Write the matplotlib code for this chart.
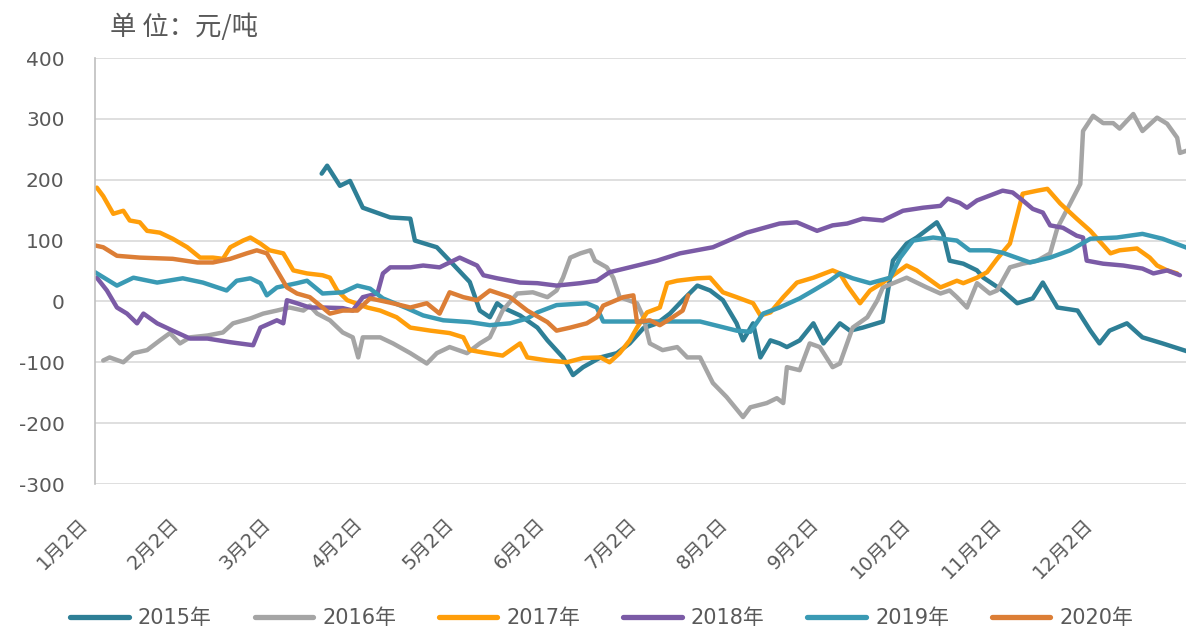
import matplotlib
matplotlib.use("Agg")
import matplotlib.pyplot as plt
from matplotlib.transforms import ScaledTranslation

plt.rcParams['font.family'] = ['DejaVu Sans', 'Noto Sans CJK SC']
plt.rcParams['axes.unicode_minus'] = False

# ---- data (time in months after 1月2日, value in 元/吨) ----
month_labels = ["1月2日", "2月2日", "3月2日", "4月2日", "5月2日", "6月2日",
                "7月2日", "8月2日", "9月2日", "10月2日", "11月2日", "12月2日"]
years = ["2015年", "2016年", "2017年", "2018年", "2019年", "2020年"]

t2015 = [2.48, 2.54, 2.68, 2.79, 2.93, 3.23, 3.45, 3.50, 3.74, 3.88, 4.10, 4.21, 4.32, 4.40,
         4.46, 4.65, 4.84, 4.95, 5.12, 5.23, 5.34, 5.53, 5.71, 5.85, 6.00, 6.15, 6.29, 6.43,
         6.59, 6.73, 6.87, 7.02, 7.09, 7.20, 7.28, 7.39, 7.49, 7.57, 7.71, 7.86, 7.97, 8.15,
         8.26, 8.40, 8.62, 8.73, 8.88, 8.99, 9.21, 9.28, 9.35, 9.50, 9.65, 9.72, 9.93, 10.09,
         10.26, 10.37, 10.53, 10.75, 10.89, 10.99, 11.10, 11.29, 11.46, 11.68, 11.95]
v2015 = [210, 223, 190, 198, 154, 138, 136, 100, 89, 67, 32, -15, -26, -3,
         -10, -23, -43, -64, -92, -121, -108, -92, -85, -69, -44, -36, -20, 2,
         26, 18, 2, -36, -64, -36, -92, -64, -69, -75, -64, -36, -69, -36,
         -48, -43, -33, 67, 95, 105, 130, 111, 67, 62, 51, 39, 18, -3,
         5, 31, -10, -15, -48, -69, -48, -36, -59, -69, -82]

t2016 = [0.09, 0.16, 0.31, 0.42, 0.57, 0.71, 0.82, 0.93, 1.04, 1.23, 1.40, 1.51, 1.70, 1.84,
         1.99, 2.13, 2.28, 2.35, 2.43, 2.57, 2.71, 2.82, 2.88, 2.93, 3.12, 3.26, 3.45, 3.63,
         3.74, 3.88, 4.07, 4.21, 4.32, 4.46, 4.62, 4.79, 4.95, 5.05, 5.12, 5.20, 5.31, 5.42,
         5.47, 5.60, 5.67, 5.74, 5.93, 6.00, 6.07, 6.21, 6.37, 6.48, 6.62, 6.76, 6.91, 7.09,
         7.17, 7.35, 7.46, 7.53, 7.57, 7.71, 7.82, 7.93, 8.07, 8.15, 8.29, 8.45, 8.56, 8.62,
         8.88, 9.10, 9.25, 9.35, 9.43, 9.54, 9.65, 9.79, 9.87, 10.01, 10.15, 10.31, 10.45,
         10.53, 10.67, 10.78, 10.81, 10.92, 11.03, 11.14, 11.21, 11.36, 11.46, 11.62, 11.73,
         11.84, 11.87, 11.95]
v2016 = [-97, -92, -100, -85, -80, -64, -52, -69, -59, -56, -51, -36, -28, -20,
         -15, -10, -15, -7, -20, -31, -51, -59, -92, -59, -59, -69, -85, -102,
         -85, -75, -85, -69, -59, -15, 13, 15, 7, 18, 39, 72, 79, 84,
         67, 56, 39, 7, -3, -26, -69, -80, -75, -92, -92, -134, -157, -190,
         -174, -167, -159, -167, -108, -113, -69, -75, -108, -102, -43, -26, 2, 23,
         39, 23, 13, 18, 7, -10, 30, 13, 18, 56, 62, 67, 79,
         121, 161, 193, 280, 305, 293, 293, 284, 308, 280, 302, 292,
         269, 244, 248]

t2017 = [0.02, 0.09, 0.20, 0.31, 0.38, 0.49, 0.57, 0.71, 0.85, 1.01, 1.15, 1.29, 1.40, 1.48,
         1.62, 1.70, 1.81, 1.91, 2.06, 2.17, 2.32, 2.49, 2.57, 2.65, 2.76, 2.98, 3.12, 3.30,
         3.45, 3.67, 3.88, 4.03, 4.10, 4.25, 4.46, 4.65, 4.73, 4.95, 5.16, 5.34, 5.53, 5.63,
         5.74, 5.85, 5.93, 6.04, 6.18, 6.26, 6.37, 6.59, 6.73, 6.87, 7.02, 7.20, 7.28, 7.39,
         7.53, 7.68, 7.86, 8.07, 8.15, 8.23, 8.37, 8.48, 8.62, 8.88, 8.99, 9.25, 9.43, 9.50,
         9.65, 9.76, 9.87, 10.01, 10.15, 10.31, 10.42, 10.56, 10.74, 10.89, 11.11, 11.21,
         11.40, 11.54, 11.62, 11.73, 11.84]
v2017 = [187, 173, 144, 149, 133, 130, 116, 113, 103, 89, 72, 72, 70, 89,
         100, 105, 95, 84, 79, 51, 46, 43, 39, 18, 2, -10, -15, -26,
         -43, -48, -52, -59, -80, -84, -89, -69, -92, -97, -100, -93, -92, -100,
         -85, -64, -43, -18, -10, 30, 34, 38, 39, 15, 7, -3, -23, -18,
         7, 31, 39, 51, 46, 26, -3, 18, 31, 59, 51, 23, 34, 30,
         39, 48, 70, 95, 177, 182, 185, 161, 136, 116, 79, 84,
         87, 72, 59, 51, 46]

t2018 = [0.02, 0.13, 0.24, 0.35, 0.46, 0.53, 0.68, 0.85, 1.04, 1.23, 1.48, 1.73, 1.81, 1.99,
         2.06, 2.10, 2.21, 2.35, 2.49, 2.71, 2.82, 2.93, 3.09, 3.15, 3.23, 3.45, 3.59, 3.77,
         3.88, 3.99, 4.18, 4.25, 4.40, 4.65, 4.84, 5.05, 5.31, 5.49, 5.63, 5.85, 6.15, 6.40,
         6.76, 7.13, 7.49, 7.68, 7.90, 8.07, 8.23, 8.40, 8.62, 8.84, 9.06, 9.25, 9.33, 9.46,
         9.54, 9.65, 9.79, 9.93, 10.04, 10.15, 10.26, 10.37, 10.45, 10.59, 10.74, 10.81, 10.85,
         11.03, 11.25, 11.46, 11.58, 11.73, 11.87]
v2018 = [39, 18, -10, -20, -36, -20, -36, -48, -61, -61, -67, -72, -43, -31,
         -36, 2, -3, -10, -10, -11, -15, 7, 13, 46, 56, 56, 59, 56,
         64, 72, 59, 43, 38, 31, 30, 26, 30, 34, 48, 56, 67, 79,
         89, 113, 128, 130, 116, 125, 128, 136, 133, 149, 154, 157, 169, 162,
         154, 166, 174, 182, 179, 166, 152, 146, 125, 121, 108, 105, 67,
         62, 59, 54, 46, 51, 43]

t2019 = [0.00, 0.24, 0.42, 0.68, 0.96, 1.18, 1.44, 1.55, 1.70, 1.81, 1.88, 1.99, 2.21, 2.32,
         2.49, 2.71, 2.87, 3.01, 3.15, 3.41, 3.59, 3.81, 4.10, 4.32, 4.54, 4.73, 4.84, 5.05,
         5.38, 5.49, 5.56, 5.96, 6.62, 7.02, 7.17, 7.31, 7.49, 7.71, 7.86, 8.04, 8.15, 8.29,
         8.48, 8.70, 8.81, 8.95, 9.17, 9.43, 9.57, 9.79, 9.93, 10.23, 10.45, 10.67, 10.89,
         11.18, 11.46, 11.68, 11.95]
v2019 = [48, 26, 39, 31, 38, 31, 18, 34, 38, 30, 10, 23, 30, 34,
         13, 15, 26, 21, 5, -11, -23, -31, -34, -39, -36, -28, -18, -6,
         -3, -10, -33, -33, -33, -48, -50, -20, -10, 5, 18, 34, 46, 38,
         30, 39, 72, 100, 105, 100, 84, 84, 80, 64, 72, 84, 103,
         105, 111, 103, 88]

t2020 = [0.00, 0.09, 0.24, 0.49, 0.85, 1.12, 1.29, 1.48, 1.66, 1.77, 1.88, 1.99, 2.10, 2.21,
         2.35, 2.49, 2.57, 2.71, 2.87, 3.01, 3.23, 3.45, 3.63, 3.77, 3.88, 4.03, 4.18, 4.32,
         4.54, 4.73, 4.95, 5.05, 5.20, 5.38, 5.49, 5.56, 5.78, 5.89, 5.93, 6.07, 6.18, 6.32,
         6.43, 6.49]
v2020 = [92, 89, 75, 72, 70, 64, 64, 70, 79, 84, 79, 51, 23, 13,
         7, -10, -20, -15, -15, 5, -2, -10, -3, -20, 15, 7, 2, 18,
         7, -15, -34, -48, -43, -36, -26, -7, 7, 10, -34, -31, -39, -26,
         -15, 10]

series_t = [t2015, t2016, t2017, t2018, t2019, t2020]
series_v = [v2015, v2016, v2017, v2018, v2019, v2020]
colors = ["#2E7F96", "#A5A5A5", "#FF9E0A", "#7B5BA6", "#3A9AB4", "#DC7E36"]

# ---- figure ----
W, H = 1187, 630
fig = plt.figure(figsize=(W / 100, H / 100), dpi=100)
ax = fig.add_axes([95 / W, 1 - 484 / H, (1186 - 95) / W, (484 - 58) / H])

for t, v, c, lab in zip(series_t, series_v, colors, years):
    ax.plot(t, v, color=c, lw=3.2, label=lab, solid_joinstyle='round',
            solid_capstyle='round')

ax.set_ylim(-300, 400)
ax.set_yticks(range(-300, 401, 100))
ax.set_xlim(0, (1186 - 95) / 91.4)
ax.set_xticks(range(12))
ax.set_xticklabels(month_labels)

ax.grid(axis='y', color='#D9D9D9', lw=1.2)
ax.set_axisbelow(True)
for s in ['top', 'right', 'bottom']:
    ax.spines[s].set_visible(False)
ax.spines['left'].set_color('#BFBFBF')
ax.spines['left'].set_linewidth(1.2)

ax.tick_params(axis='y', length=0, pad=22, labelsize=14.5, labelcolor='#595959')
ax.tick_params(axis='x', length=0, pad=27, labelsize=14, labelcolor='#595959')
offset = ScaledTranslation(-0.10, 0, fig.dpi_scale_trans)
for lbl in ax.get_xticklabels():
    lbl.set_rotation(45)
    lbl.set_ha('right')
    lbl.set_va('center')
    lbl.set_rotation_mode('anchor')
    lbl.set_transform(lbl.get_transform() + offset)

fig.text(110 / W, 1 - 27 / H, "单 位：元/吨", fontsize=19, color='#595959',
         va='center', ha='left', family=['Noto Sans CJK SC', 'DejaVu Sans'])

leg = fig.legend(loc='center', bbox_to_anchor=(0.507, 1 - 618 / H), ncol=6,
                 frameon=False, handlelength=2.8, columnspacing=2.05,
                 handletextpad=0.45, fontsize=15)
for line in leg.get_lines():
    line.set_linewidth(3.8)
    line.set_solid_capstyle('round')
for txt in leg.get_texts():
    txt.set_color('#595959')

fig.savefig("out.png", dpi=100)
